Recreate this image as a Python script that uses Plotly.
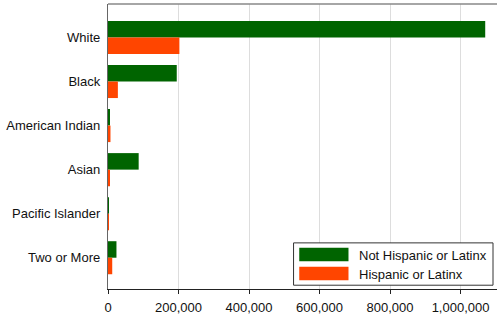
import plotly.graph_objects as go

categories = ["White", "Black", "American Indian", "Asian", "Pacific Islander", "Two or More"]
not_hispanic = [1070000, 195000, 4000, 87000, 1500, 24000]
hispanic = [202500, 28000, 7000, 3000, 1500, 12000]
series_names = ["Not Hispanic or Latinx", "Hispanic or Latinx"]
colors = ["#006400", "#FF4500"]
x_ticks = [0, 200000, 400000, 600000, 800000, 1000000]

W, H = 497, 314
ML, MR, MT, MB = 107.5, 0, 4, 24.5
pw = W - ML - MR
ph = H - MT - MB

def px(X):
    return (X - ML) / pw

def py(Y):
    return (H - MB - Y) / ph

fig = go.Figure()
for name, vals, col in zip(series_names, [not_hispanic, hispanic], colors):
    fig.add_trace(go.Bar(y=categories, x=vals, name=name, orientation="h",
                         marker=dict(color=col, line=dict(width=0))))

font = "Liberation Sans, Arial, sans-serif"
fig.update_layout(
    width=W, height=H,
    margin=dict(l=ML, r=MR, t=MT, b=MB, pad=0, autoexpand=False),
    paper_bgcolor="white", plot_bgcolor="white",
    barmode="group", bargap=0.25, bargroupgap=0,
    showlegend=False,
    font=dict(family=font, size=13, color="#111"),
)
fig.update_xaxes(range=[0, 1103400], tickvals=x_ticks, tickformat=",",
                 showgrid=True, gridcolor="#dddddd", gridwidth=1,
                 showline=True, linecolor="#222", linewidth=1.3,
                 ticks="outside", ticklen=4, tickcolor="#222",
                 ticklabelstandoff=2, automargin=False,
                 zeroline=False, tickfont=dict(size=13, color="#111"))
fig.update_yaxes(type="category", categoryorder="array", categoryarray=categories,
                 range=[5.71, -0.76], showgrid=False,
                 showline=True, linecolor="#666", linewidth=1.3,
                 ticks="", ticklabelstandoff=4, automargin=False,
                 tickfont=dict(size=13, color="#111"))

# top border
fig.add_shape(type="line", xref="paper", yref="paper", x0=0, x1=1, y0=1, y1=1,
              line=dict(color="#888", width=1.3))

# custom legend
fig.add_shape(type="rect", xref="paper", yref="paper",
              x0=px(293.3), x1=px(493), y0=py(285.7), y1=py(243.3),
              line=dict(color="#333", width=1), fillcolor="white", layer="above")
sw = [(248.3, 261.7, 255.5), (267.3, 280.7, 274.5)]
for (y0, y1, yc), name, col in zip(sw, series_names, colors):
    fig.add_shape(type="rect", xref="paper", yref="paper",
                  x0=px(299), x1=px(348.3), y0=py(y1), y1=py(y0),
                  line=dict(width=0), fillcolor=col, layer="above")
    fig.add_annotation(xref="paper", yref="paper", x=px(356.5), y=py(yc),
                       text=name, showarrow=False, xanchor="left", yanchor="middle",
                       font=dict(size=13, color="#111", family=font))

fig.write_html("out.html", config={"displayModeBar": False},
               post_script="document.body.style.margin='0';document.body.style.overflow='hidden';")
